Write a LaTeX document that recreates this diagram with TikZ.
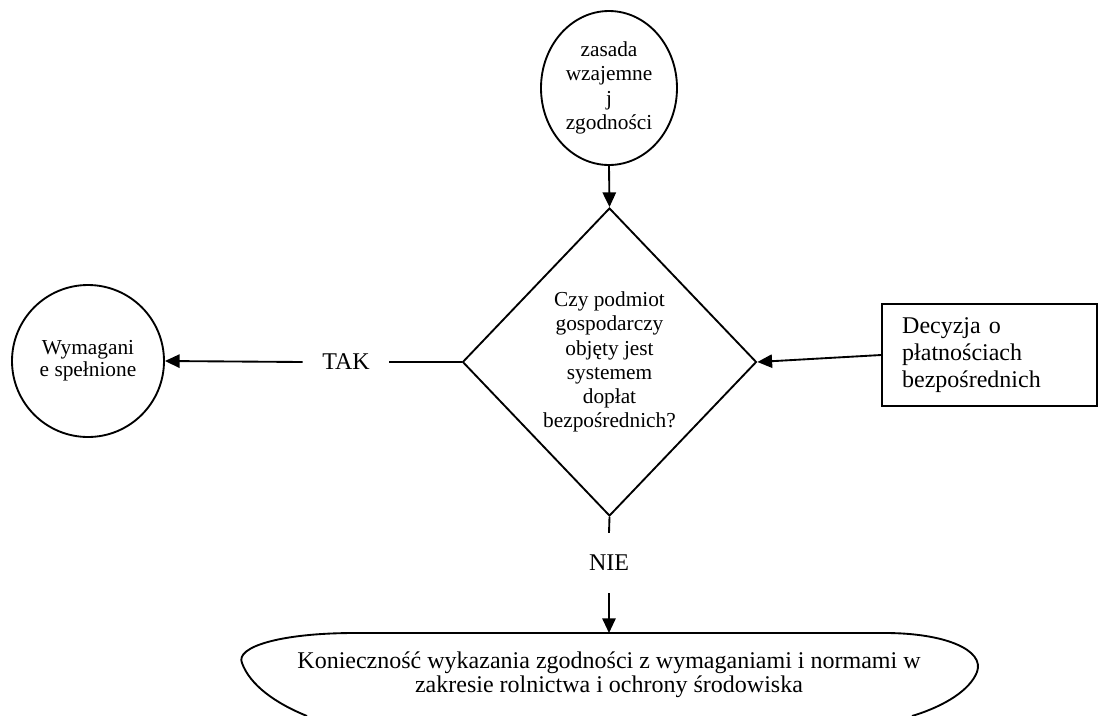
\documentclass[tikz,border=0pt]{standalone}
\usepackage{fontspec}
\setmainfont{Liberation Serif}
\usetikzlibrary{shapes.geometric,arrows.meta}
\begin{document}
\begin{tikzpicture}[x=0.75pt, y=-0.75pt, line width=1.4pt,
        arr/.style={-{Triangle[length=11pt, width=10pt]}},
        big/.style={font=\fontsize{18}{20}\selectfont},
        small/.style={font=\fontsize{16}{18.2}\selectfont},
        lbl/.style={big, inner xsep=14pt, inner ysep=16pt}]
        \useasboundingbox (0, 0) rectangle (1101, 715);

        \node[draw, ellipse, small, align=center, inner sep=0pt, minimum width=102pt, minimum height=115.5pt] (rule) at (609, 88) {zasada\\wzajemne\\j\\zgodności};
        \node[draw, diamond, small, align=center, inner sep=0pt, minimum width=220.5pt, minimum height=231pt] (dec) at (609.5, 362) {Czy podmiot\\gospodarczy\\objęty jest\\systemem\\dopłat\\bezpośrednich?};
        \node[draw, circle, align=center, inner sep=0pt, minimum size=114pt, font=\fontsize{16}{16.5}\selectfont] (done) at (88, 361) {Wymagani\\e spełnione};
        \node[draw, big, align=left, text width=131pt, inner xsep=15pt, minimum height=76.5pt] (pay) at (989.5, 355) {Decyzja o\\płatnościach\\bezpośrednich};

        \node[lbl] (tak) at (346, 362) {TAK};
        \node[lbl] (nie) at (609, 563) {NIE};

        \node[align=center, font=\fontsize{18}{18}\selectfont] (need) at (609, 675) {Konieczność wykazania zgodności z wymaganiami i normami w\\zakresie rolnictwa i ochrony środowiska};
        \coordinate (needtop) at (609, 633);
        \draw (355, 633) -- (885, 633)
            .. controls (945, 633) and (985, 650) .. (977, 672)
            .. controls (970, 690) and (945, 706) .. (912, 716);
        \draw (355, 633) .. controls (280, 633) and (235, 647) .. (242, 663)
            .. controls (250, 685) and (275, 703) .. (307, 716);

        \draw[arr] (rule.south) -- (dec.north);
        \draw (dec.west) -- (tak.east);
        \draw[arr] (tak.west) -- (done.east);
        \draw[arr] (pay.west) -- (dec.east);
        \draw (dec.south) -- (nie.north);
        \draw[arr] (nie.south) -- (needtop);
    \end{tikzpicture}
\end{document}
